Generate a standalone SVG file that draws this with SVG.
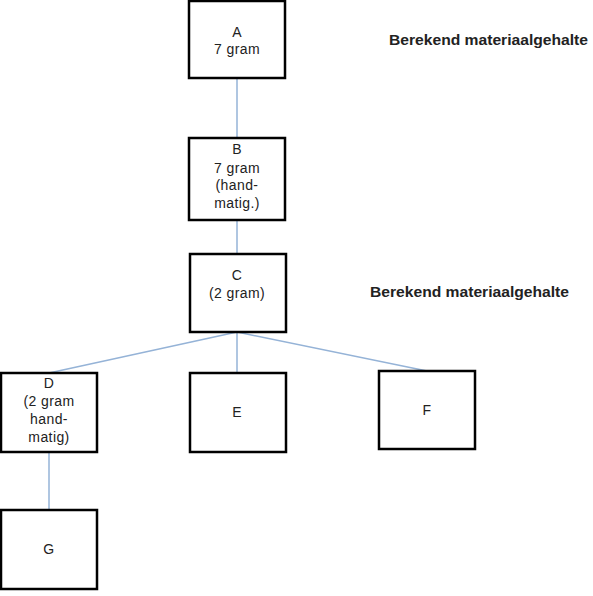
<svg xmlns="http://www.w3.org/2000/svg" width="593" height="596" viewBox="0 0 593 596">
<style>
.box{fill:#fff;stroke:#000;stroke-width:2.5}
.t{font-family:"Liberation Sans",Arial,sans-serif;font-size:14px;fill:#222;text-anchor:middle;letter-spacing:0.4px}
.lbl{font-family:"Liberation Sans",Arial,sans-serif;font-size:14px;font-weight:bold;fill:#222}
.c{stroke:#95b3d7;stroke-width:1.5;fill:none}
</style>
<rect width="593" height="596" fill="#fff"/>
<g id="connectors">
<line class="c" x1="237" y1="79" x2="237" y2="137"/>
<line class="c" x1="237" y1="221" x2="237" y2="253"/>
<line class="c" x1="237" y1="332" x2="49" y2="373"/>
<line class="c" x1="237" y1="332" x2="237" y2="373"/>
<line class="c" x1="237" y1="332" x2="427" y2="371"/>
<line class="c" x1="49" y1="452" x2="49" y2="510"/>
</g>
<g id="A"><rect class="box" x="189" y="1" width="96" height="77"/>
<text class="t" x="237" y="37">A</text><text class="t" x="237" y="54">7 gram</text></g>
<g id="B"><rect class="box" x="189" y="138" width="96" height="82"/>
<text class="t" x="237" y="154">B</text><text class="t" x="237" y="173">7 gram</text><text class="t" x="237" y="190">(hand-</text><text class="t" x="237" y="208">matig.)</text></g>
<g id="C"><rect class="box" x="190" y="254" width="96" height="78"/>
<text class="t" x="237" y="280">C</text><text class="t" x="237" y="298">(2 gram)</text></g>
<g id="D"><rect class="box" x="1" y="373" width="96" height="79"/>
<text class="t" x="49" y="388">D</text><text class="t" x="49" y="406">(2 gram</text><text class="t" x="49" y="424">hand-</text><text class="t" x="49" y="442">matig)</text></g>
<g id="E"><rect class="box" x="190" y="373" width="96" height="79"/>
<text class="t" x="237" y="417">E</text></g>
<g id="F"><rect class="box" x="379" y="371" width="96" height="78"/>
<text class="t" x="427" y="415">F</text></g>
<g id="G"><rect class="box" x="1" y="510" width="96" height="79"/>
<text class="t" x="49" y="554">G</text></g>
<g id="labels">
<text class="lbl" x="389" y="45" textLength="199" lengthAdjust="spacingAndGlyphs">Berekend materiaalgehalte</text>
<text class="lbl" x="370" y="297" textLength="199" lengthAdjust="spacingAndGlyphs">Berekend materiaalgehalte</text>
</g>
</svg>
